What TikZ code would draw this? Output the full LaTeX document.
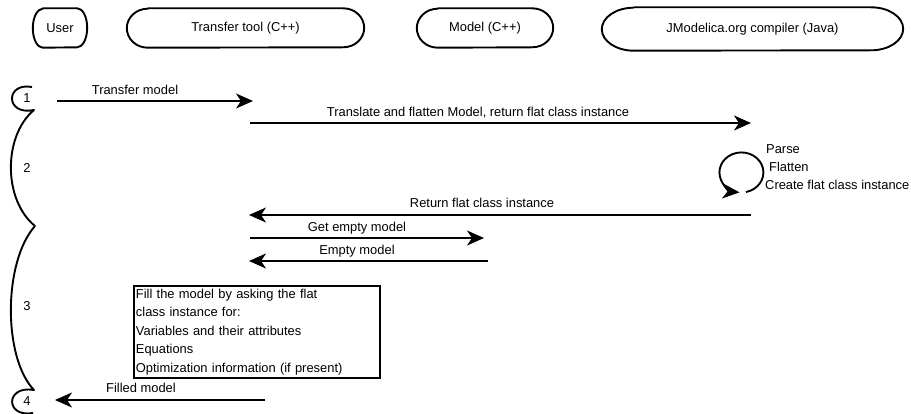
\documentclass[tikz,border=0pt]{standalone}
\usepackage{fontspec}
\setmainfont{Liberation Sans}
\usetikzlibrary{arrows.meta}
% outline of a header: flat top and bottom, elliptic ends
% #1 node, #2 horizontal radius of the ends, #3 half height
\newcommand\capoutline[3]{%
  \draw[shapeline] ([xshift=#2]#1.north west) -- ([xshift=-#2]#1.north east)
    arc[start angle=90,end angle=-90,x radius=#2,y radius=#3]
    -- ([xshift=#2]#1.south west)
    arc[start angle=270,end angle=90,x radius=#2,y radius=#3] -- cycle;}
\begin{document}
\begin{tikzpicture}[x=1pt,y=-1pt,
  every node/.style={font=\fontsize{12.9}{15}\selectfont, inner sep=0pt},
  shapeline/.style={line width=1.9pt, line join=round},
  msg/.style={line width=1.9pt, -{Stealth[length=17pt,width=15pt,inset=5pt]}},
  hdr/.style={minimum height=39pt},
  lbl/.style={anchor=base}]
\useasboundingbox (0,0) rectangle (911,414);

% participants
\node[hdr, minimum width=54pt]  (user)     at (60,28)  {User};
\node[hdr, minimum width=237pt] (tool)     at (245.5,28) {Transfer tool (C++)};
\node[hdr, minimum width=136pt] (model)    at (485,28)  {Model (C++)};
\node[minimum height=43pt, minimum width=301pt] (compiler) at (752.5,29) {JModelica.org compiler (Java)};
\capoutline{user}{10pt}{19.5pt}
\capoutline{tool}{21pt}{19.5pt}
\capoutline{model}{21pt}{19.5pt}
\capoutline{compiler}{32pt}{21.5pt}

% message end points
\coordinate (m1s) at (57,101);   \coordinate (m1e) at (253,101);
\coordinate (m2s) at (250,123);  \coordinate (m2e) at (751,123);
\coordinate (m3s) at (751,215);  \coordinate (m3e) at (249,215);
\coordinate (m4s) at (250,238);  \coordinate (m4e) at (484,238);
\coordinate (m5s) at (488,261);  \coordinate (m5e) at (249,261);
\coordinate (m6s) at (265,400);  \coordinate (m6e) at (55,400);

\draw[msg] (m1s) -- (m1e);
\draw[msg] (m2s) -- (m2e);
\draw[msg] (m3s) -- (m3e);
\draw[msg] (m4s) -- (m4e);
\draw[msg] (m5s) -- (m5e);
\draw[msg] (m6s) -- (m6e);

\node[lbl] (l1) at (135,95)  {Transfer model};
\node[lbl] (l2) at (478,117) {Translate and flatten Model, return flat class instance};
\node[lbl] (l3) at (482,208) {Return flat class instance};
\node[lbl] (l4) at (357,232) {Get empty model};
\node[lbl] (l5) at (357,255) {Empty model};
\node[lbl] (l6) at (141,392) {Filled model};

% compiler self-call
\coordinate (loopstart) at (746,192);
\draw[msg] (loopstart) arc[start angle=-78,end angle=265,x radius=22pt,y radius=20pt];
\node[anchor=base west] (parse)   at (766,154) {Parse};
\node[anchor=base west] (flatten) at (769,172) {Flatten};
\node[anchor=base west] (create)  at (765,190) {Create flat class instance};

% filling step
\node[draw, line width=1.9pt, anchor=north west, minimum width=246pt,
      minimum height=92pt, text width=242pt, inner sep=2pt, align=left,
      font=\fontsize{12.9}{18.5}\selectfont] (fill) at (133,285)
  {Fill the model by asking the flat\\class instance for:\\Variables and their attributes\\Equations\\Optimization information (if present)};

% phase bracket
\draw[shapeline] (32,87) .. controls (5,82) and (5,116) .. (34,110)
  .. controls (3,136) and (3,200) .. (35,226)
  .. controls (3,262) and (3,358) .. (34,390)
  .. controls (5,385) and (5,418) .. (33,413);
\node (p1) at (27,98)  {1};
\node (p2) at (27,168) {2};
\node (p3) at (27,306) {3};
\node (p4) at (27,401) {4};
\end{tikzpicture}
\end{document}
